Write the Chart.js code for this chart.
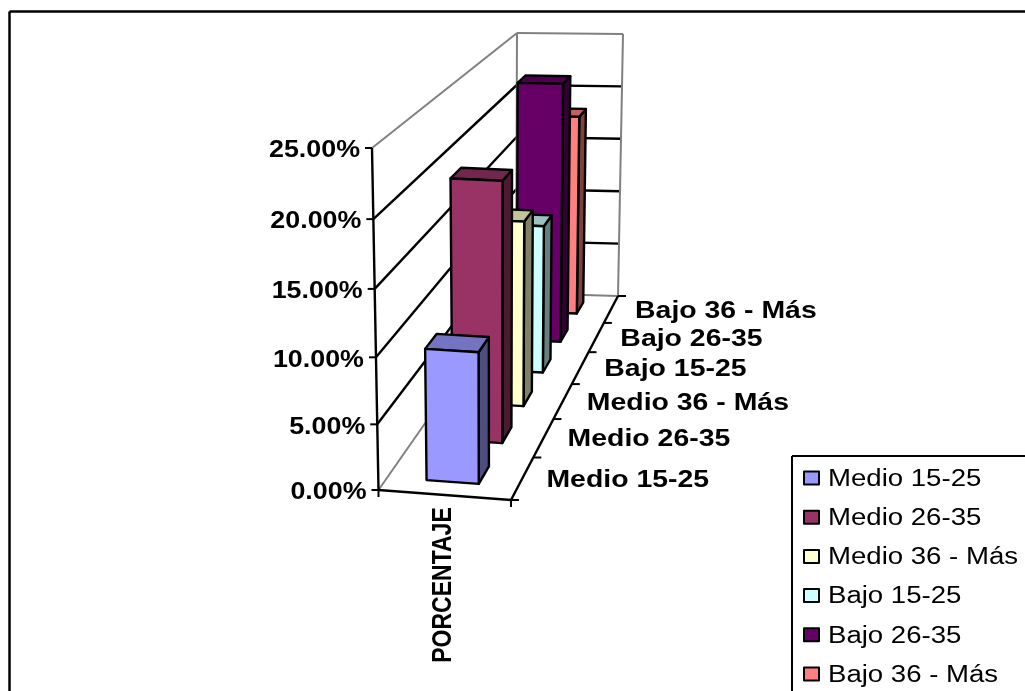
<!DOCTYPE html>
<html>
<head>
<meta charset="utf-8">
<title>PORCENTAJE</title>
<style>
  html, body { margin: 0; padding: 0; background: #fff; overflow: hidden; }
  canvas { display: block; }
</style>
<script src="https://cdn.jsdelivr.net/npm/chart.js@4"></script>
</head>
<body>
<canvas id="chart3d" width="1025" height="691"></canvas>
<script>
// Values
const categories = ['PORCENTAJE'];
const seriesNames = ['Medio 15-25', 'Medio 26-35', 'Medio 36 - Más', 'Bajo 15-25', 'Bajo 26-35', 'Bajo 36 - Más'];
const seriesValues = [0.100, 0.205, 0.152, 0.126, 0.230, 0.183];
const seriesColors = ['#9999FF', '#993366', '#FFFFCC', '#CCFFFF', '#660066', '#FF8080'];
const tickValues = [0, 0.05, 0.10, 0.15, 0.20, 0.25];
const tickLabels = ['0.00%', '5.00%', '10.00%', '15.00%', '20.00%', '25.00%'];

// The box corners on the page: front and back faces
const cube = {
    front: { bl: [378.5, 490], br: [511, 500], tl: [372, 148], tr: [512.5, 155] },
    back: { bl: [516, 293], br: [618, 296], tl: [517, 33], tr: [623, 34] }
};
const DEPTH_RATIO = 0.76;
const GRAY = '#808080';

function mix(a, b, t) {
    return a + (b - a) * t;
}

function bilinear(face, u, h) {
    const bottom = [mix(face.bl[0], face.br[0], u), mix(face.bl[1], face.br[1], u)];
    const top = [mix(face.tl[0], face.tr[0], u), mix(face.tl[1], face.tr[1], u)];
    return [mix(bottom[0], top[0], h), mix(bottom[1], top[1], h)];
}

// u across the category, h share of the value axis, d depth (0 front, 1 back)
function project(u, h, d) {
    const f = d / (d + DEPTH_RATIO * (1 - d));
    const bent = h - 0.05 * h * (1 - h) * (1 - f);
    const a = bilinear(cube.front, u, bent);
    const b = bilinear(cube.back, u, bent);
    return [mix(a[0], b[0], f), mix(a[1], b[1], f)];
}

function shade(hex, k) {
    const n = parseInt(hex.slice(1), 16);
    const r = Math.round((n >> 16 & 255) * k);
    const g = Math.round((n >> 8 & 255) * k);
    const b = Math.round((n & 255) * k);
    return `rgb(${r},${g},${b})`;
}

function polygon(ctx, points, fill) {
    ctx.beginPath();
    points.forEach((p, i) => (i ? ctx.lineTo(p[0], p[1]) : ctx.moveTo(p[0], p[1])));
    ctx.closePath();
    ctx.fillStyle = fill;
    ctx.fill();
    ctx.strokeStyle = '#000';
    ctx.lineWidth = 2.4;
    ctx.lineJoin = 'round';
    ctx.stroke();
}

function line(ctx, a, b, color, width) {
    ctx.beginPath();
    ctx.moveTo(a[0], a[1]);
    ctx.lineTo(b[0], b[1]);
    ctx.strokeStyle = color;
    ctx.lineWidth = width;
    ctx.stroke();
}

// Text is wider than tall in the picture, so it gets stretched sideways
function stretchedText(ctx, text, x, y, font, align, stretch) {
    ctx.save();
    ctx.translate(x, y);
    ctx.scale(stretch, 1);
    ctx.font = font;
    ctx.fillStyle = '#000';
    ctx.textAlign = align;
    ctx.textBaseline = 'middle';
    ctx.fillText(text, 0, 0);
    ctx.restore();
}

// Bar controller that paints each bar as a box standing in the depth slot of its series
class Bar3dController extends Chart.BarController {
    draw() {
        const chart = this.chart;
        const ctx = chart.ctx;
        const scale = chart.scales.y;
        const slot = this.index;
        const color = this.getDataset().backgroundColor;
        const d0 = (slot + 0.30) / seriesNames.length;
        const d1 = (slot + 0.72) / seriesNames.length;
        const u0 = 0.3;
        const u1 = 0.7;
        this._cachedMeta.data.forEach(bar => {
            const h = (scale.bottom - bar.y) / scale.height;
            polygon(ctx, [project(u1, 0, d0), project(u1, 0, d1), project(u1, h, d1), project(u1, h, d0)], shade(color, 0.5));
            polygon(ctx, [project(u0, h, d0), project(u1, h, d0), project(u1, h, d1), project(u0, h, d1)], shade(color, 0.76));
            polygon(ctx, [project(u0, 0, d0), project(u1, 0, d0), project(u1, h, d0), project(u0, h, d0)], color);
        });
    }
}
Bar3dController.id = 'bar3d';
Bar3dController.defaults = Chart.BarController.defaults;
Chart.register(Bar3dController);

// Walls, floor, gridlines and the outer frame, behind the bars
const wallsPlugin = {
    id: 'walls',
    beforeDatasetsDraw(chart) {
        const ctx = chart.ctx;
        const scale = chart.scales.y;
        ctx.save();
        line(ctx, [9.5, 11.5], [1025, 11.5], '#000', 2.5);
        line(ctx, [9.5, 11.5], [9.5, 691], '#000', 2.5);

        tickValues.forEach(v => {
            const h = (scale.bottom - scale.getPixelForValue(v)) / scale.height;
            const color = v === 0 || v === scale.max ? GRAY : '#000';
            const width = color === GRAY ? 2 : 2.4;
            line(ctx, project(0, h, 0), project(0, h, 1), color, width);
            line(ctx, project(0, h, 1), project(1, h, 1), color, width);
        });
        line(ctx, project(0, 0, 1), project(0, 1, 1), GRAY, 2);
        line(ctx, project(1, 0, 1), project(1, 1, 1), GRAY, 2);

        line(ctx, project(0, 0, 0), project(0, 1, 0), '#000', 2.4);
        line(ctx, project(0, 0, 0), project(1, 0, 0), '#000', 2.4);
        line(ctx, project(1, 0, 0), project(1, 0, 1), '#000', 2.4);
        ctx.restore();
    },
    afterDatasetsDraw(chart) {
        const ctx = chart.ctx;
        const scale = chart.scales.y;
        ctx.save();

        // value axis
        tickValues.forEach((v, i) => {
            const h = (scale.bottom - scale.getPixelForValue(v)) / scale.height;
            const p = project(0, h, 0);
            line(ctx, [p[0] - 7, p[1]], p, '#000', 2);
            stretchedText(ctx, tickLabels[i], p[0] - 12, p[1] + 3, 'bold 23px "Liberation Sans"', 'right', 1.167);
        });

        // category axis
        const a = project(0, 0, 0);
        const b = project(1, 0, 0);
        line(ctx, a, [a[0], a[1] + 7], '#000', 2);
        line(ctx, b, [b[0], b[1] + 7], '#000', 2);
        ctx.save();
        ctx.translate(443, 585);
        ctx.scale(1.22, 1);
        ctx.rotate(-Math.PI / 2);
        ctx.font = 'bold 23px "Liberation Sans"';
        ctx.fillStyle = '#000';
        ctx.textAlign = 'center';
        ctx.textBaseline = 'middle';
        ctx.fillText(categories[0], 0, 0);
        ctx.restore();

        // series axis along the floor
        const n = seriesNames.length;
        for (let i = 0; i <= n; i++) {
            const p = project(1, 0, i / n);
            line(ctx, p, [p[0] + 8, p[1]], '#000', 2);
        }
        seriesNames.forEach((name, i) => {
            const p = project(1, 0, (i + 0.5) / n);
            stretchedText(ctx, name, p[0] + 24, p[1] + 2, 'bold 24px "Liberation Sans"', 'left', 1.184);
        });

        // legend box, runs off the page like the original
        ctx.fillStyle = '#fff';
        ctx.fillRect(792, 456, 240, 240);
        line(ctx, [792, 456], [1030, 456], '#000', 2);
        line(ctx, [792, 456], [792, 696], '#000', 2);
        chart.data.datasets.forEach((ds, i) => {
            const y = 478 + i * 39.2;
            ctx.fillStyle = ds.backgroundColor;
            ctx.fillRect(804, y - 6.5, 15, 13);
            ctx.strokeStyle = '#000';
            ctx.lineWidth = 2;
            ctx.strokeRect(804, y - 6.5, 15, 13);
            stretchedText(ctx, ds.label, 828, y + 1.5, '23px "Liberation Sans"', 'left', 1.199);
        });
        ctx.restore();
    }
};

new Chart(document.getElementById('chart3d').getContext('2d'), {
    type: 'bar3d',
    data: {
        labels: categories,
        datasets: seriesNames.map((name, i) => ({
            label: name,
            data: [seriesValues[i]],
            backgroundColor: seriesColors[i],
            clip: false
        }))
    },
    options: {
        responsive: false,
        animation: false,
        layout: { padding: { left: 372, right: 514, top: 148, bottom: 201 } },
        plugins: { legend: { display: false }, tooltip: { enabled: false } },
        scales: {
            x: { type: 'category', display: false },
            y: { type: 'linear', display: false, min: 0, max: 0.25 }
        }
    },
    plugins: [wallsPlugin]
});
</script>
</body>
</html>
